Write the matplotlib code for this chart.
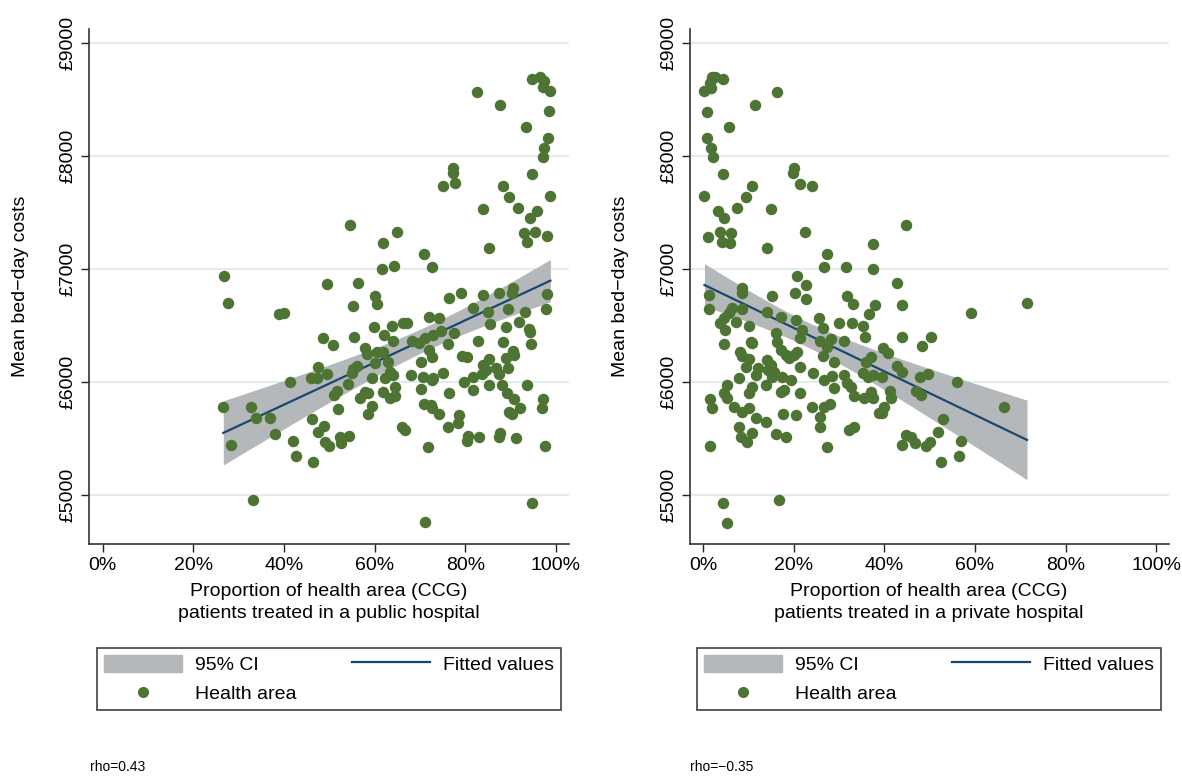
import numpy as np
import matplotlib
matplotlib.use("Agg")
import matplotlib.pyplot as plt
from matplotlib.patches import Patch
from matplotlib.lines import Line2D

plt.rcParams["font.family"] = ["Liberation Sans", "DejaVu Sans"]

# left panel: % of CCG patients treated in a public hospital vs mean bed-day cost
public_pct = [
    82.7, 87.7, 93.4, 94.8, 96.5, 97.5, 97.2, 98.8, 98.4, 98.3, 97.4, 97.1, 94.7, 98.7,
    88.3, 89.7, 91.7, 95.8, 94.3, 93.0, 95.4, 93.6, 98.1, 83.9, 85.2, 77.4, 77.4, 75.2,
    77.8, 64.9, 61.8, 61.6, 64.3, 71.0, 72.6, 79.0, 76.5, 84.0, 87.5, 90.6, 90.3, 98.0,
    54.5, 26.8, 49.4, 56.3, 60.1,
    27.7, 38.8, 40.1, 55.3, 60.5, 59.9, 48.7, 50.8, 55.5, 57.9, 58.4, 60.5, 60.1, 56.1,
    55.3, 54.9, 47.5, 49.4, 45.9, 47.2, 41.3, 54.2, 59.5, 51.6, 51.0, 57.9, 58.6, 56.8,
    59.4, 58.5, 52.0, 26.6, 32.7, 33.8, 36.8, 46.1, 48.8, 47.4, 38.0, 28.3, 41.9, 49.1,
    50.0, 52.4, 54.4, 52.6, 42.7, 46.5, 33.1,
    97.8, 93.1, 89.5, 85.0, 81.7, 85.5, 88.9, 91.9, 94.1, 94.3, 94.5, 88.3, 82.9, 90.6,
    90.8, 89.0, 89.5, 86.9, 87.5, 85.2, 84.0, 84.6, 83.6, 81.7, 85.2, 88.2, 89.2, 90.8,
    92.1, 89.7, 90.4, 93.7, 97.2, 97.0, 97.6, 91.2, 87.7, 87.4, 83.0, 80.7, 80.3, 78.6,
    78.3, 76.1, 81.7, 79.8, 79.2, 80.5, 76.5, 70.3, 70.6, 72.6, 73.0, 75.0, 68.0, 70.3,
    72.7, 71.9, 76.1, 77.5, 74.7, 73.0, 71.1, 69.7, 68.2, 72.1, 74.3, 66.3, 67.1, 63.8,
    62.1, 64.0, 61.9, 63.0, 63.4, 62.3, 64.1, 64.5, 61.9, 63.4, 64.5, 66.0, 66.7, 71.7,
    72.4, 70.8, 72.6, 74.2, 94.7, 71.2,
]
public_cost = [
    8566, 8448, 8254, 8678, 8693, 8663, 8605, 8572, 8392, 8156, 8071, 7986, 7841, 7644,
    7732, 7638, 7540, 7511, 7446, 7319, 7323, 7237, 7290, 7529, 7187, 7889, 7845, 7732,
    7756, 7323, 7226, 6996, 7025, 7134, 7019, 6789, 6745, 6768, 6783, 6828, 6783, 6777,
    7385, 6939, 6863, 6872, 6762,
    6695, 6598, 6606, 6674, 6689, 6488, 6391, 6326, 6394, 6297, 6247, 6267, 6170, 6141,
    6111, 6081, 6129, 6067, 6032, 6037, 5996, 5981, 6032, 5920, 5884, 5913, 5905, 5855,
    5787, 5716, 5758, 5781, 5775, 5678, 5678, 5675, 5610, 5560, 5539, 5442, 5480, 5466,
    5436, 5516, 5524, 5457, 5345, 5295, 4956,
    6645, 6615, 6645, 6621, 6651, 6509, 6488, 6527, 6465, 6444, 6332, 6356, 6362, 6273,
    6238, 6209, 6126, 6126, 6067, 6202, 6149, 6105, 6067, 6046, 5973, 5973, 5899, 5849,
    5772, 5737, 5714, 5973, 5849, 5766, 5436, 5507, 5551, 5516, 5516, 5522, 5477, 5707,
    5639, 5598, 5928, 5996, 6229, 6223, 5905, 5940, 6046, 6017, 6037, 6081, 6061, 6179,
    6217, 6282, 6332, 6429, 6450, 6415, 6386, 6341, 6362, 6571, 6562, 6518, 6524, 6497,
    6415, 6364, 6267, 6179, 6090, 6032, 6061, 5958, 5913, 5855, 5875, 5604, 5575, 5421,
    5796, 5805, 5767, 5714, 4932, 4759,
]

# right panel: % treated in a private hospital
private_pct = [
    2.0, 2.7, 1.6, 4.4, 1.8, 0.3, 16.4, 11.5, 0.8, 5.7, 0.8, 1.8, 2.1, 4.4, 20.0, 19.9,
    21.4, 24.0, 0.3, 10.8, 9.4, 7.4, 3.3, 4.6, 14.9, 1.0, 3.7, 6.2, 4.2, 5.9, 22.6, 14.0,
    27.3, 37.4, 26.7, 31.6, 37.4, 20.8, 22.8, 8.5, 8.6, 1.3, 15.3, 20.2, 31.8,
    1.3, 22.8, 33.2, 37.9, 36.6, 8.5, 6.4, 5.7, 4.6, 3.8, 4.9, 7.3, 10.1, 14.2, 17.1,
    20.4, 25.6, 26.5, 30.0, 32.8, 35.4, 35.7, 21.9, 21.4, 16.2, 16.4, 17.3, 18.4, 4.6,
    10.5, 10.8, 8.2, 8.6, 10.1, 9.4, 12.1, 11.6, 14.0, 14.9, 14.3, 15.6, 15.3, 17.5,
    18.9, 20.0, 20.8, 19.3, 21.5, 24.3, 25.9, 27.3, 28.3, 26.5, 28.9, 31.0, 31.1, 31.8,
    32.7, 28.5, 26.7, 28.9, 36.0, 37.0, 35.2, 36.3, 37.4, 33.3, 35.5, 37.0, 37.6, 38.8,
    7.9, 5.3, 4.6, 5.3, 6.8, 1.6, 2.0, 10.8, 10.1, 13.8, 17.1, 17.8, 21.3, 8.6, 10.1,
    11.6, 13.8, 17.7, 20.4, 24.1, 26.7, 28.1, 25.9, 25.9, 7.9, 10.8, 8.3, 9.7, 16.2,
    18.4, 32.2, 33.3, 1.5, 27.4, 4.4, 16.7, 5.3,
    44.7, 42.9, 43.8, 71.5, 59.1, 43.8, 50.2, 48.4, 39.8, 40.8, 42.7, 44.0, 39.6, 47.9,
    49.6, 56.1, 41.2, 41.4, 39.9, 39.6, 47.1, 48.2, 66.4, 53.0, 51.9, 44.7, 45.8, 46.7,
    44.0, 50.1, 49.1, 57.0, 56.5, 52.6,
]
private_cost = [
    8693, 8699, 8646, 8678, 8596, 8572, 8566, 8448, 8389, 8254, 8157, 8071, 7986, 7841,
    7889, 7850, 7753, 7735, 7644, 7729, 7638, 7540, 7511, 7446, 7526, 7284, 7323, 7319,
    7237, 7231, 7323, 7187, 7134, 7223, 7019, 7019, 6996, 6939, 6857, 6828, 6783, 6768,
    6762, 6789, 6760,
    6645, 6733, 6689, 6680, 6598, 6642, 6651, 6606, 6562, 6518, 6459, 6532, 6494, 6621,
    6577, 6547, 6568, 6479, 6524, 6518, 6497, 6400, 6459, 6386, 6429, 6356, 6282, 6238,
    6335, 6356, 6341, 6267, 6229, 6200, 6129, 6120, 6061, 6194, 6149, 6105, 6090, 6046,
    6046, 6214, 6238, 6267, 6017, 6129, 6081, 6362, 6312, 6377, 6229, 6179, 6364, 6061,
    5988, 5958, 6052, 6017, 5943, 6179, 6217, 6081, 6046, 6061, 5875, 5855, 5913, 5855,
    5722, 6032, 5973, 5899, 5855, 5781, 5849, 5766, 5958, 5899, 5970, 5913, 5928, 5905,
    5737, 5767, 5678, 5648, 5714, 5707, 5781, 5781, 5805, 5693, 5604, 5604, 5546, 5516,
    5471, 5539, 5516, 5575, 5604, 5436, 5421, 4932, 4956, 4755,
    7385, 6872, 6677, 6695, 6612, 6394, 6394, 6320, 6297, 6253, 6141, 6090, 6041, 6041,
    6070, 5996, 5922, 5855, 5781, 5722, 5922, 5884, 5775, 5672, 5560, 5530, 5516, 5462,
    5442, 5466, 5436, 5480, 5345, 5295,
]

rho_text = ["rho=0.43", "rho=\u22120.35"]
xlabels = ["Proportion of health area (CCG)\npatients treated in a public hospital",
           "Proportion of health area (CCG)\npatients treated in a private hospital"]
ytick_vals = [5000, 6000, 7000, 8000, 9000]
xtick_vals = [0, 20, 40, 60, 80, 100]

GREEN = "#4e7434"
NAVY = "#1a476f"
CI_GREY = "#b5b8ba"
GRID = "#e3ecee"


def lfitci(x, y, n_pts=100):
    # OLS fit and 95% CI of the mean prediction, like Stata's lfitci
    x = np.asarray(x, float)
    y = np.asarray(y, float)
    n = len(x)
    b1, b0 = np.polyfit(x, y, 1)
    resid = y - (b0 + b1 * x)
    s = np.sqrt(np.sum(resid ** 2) / (n - 2))
    xbar = x.mean()
    sxx = np.sum((x - xbar) ** 2)
    xs = np.linspace(x.min(), x.max(), n_pts)
    fit = b0 + b1 * xs
    se = s * np.sqrt(1.0 / n + (xs - xbar) ** 2 / sxx)
    return xs, fit, fit - 1.97 * se, fit + 1.97 * se


def draw_panel(ax, x, y, xlabel):
    x = np.asarray(x) / 100.0
    xs, fit, lo, hi = lfitci(x, y)
    ax.fill_between(xs, lo, hi, color=CI_GREY, lw=0, zorder=2)
    ax.plot(xs, fit, color=NAVY, lw=1.6, zorder=3)
    ax.scatter(x, y, s=68, color=GREEN, linewidths=0, zorder=4)

    ax.set_xlim(-0.03, 1.028)
    ax.set_ylim(4567, 9118)
    ax.set_xticks([v / 100 for v in xtick_vals])
    ax.set_xticklabels([f"{v}%" for v in xtick_vals])
    ax.set_yticks(ytick_vals)
    ax.set_yticklabels([f"\u00a3{v}" for v in ytick_vals], rotation=90, va="center")
    ax.tick_params(labelsize=14, length=6, width=1, color="#222222", pad=3)
    ax.grid(axis="y", color=GRID, lw=1.5, zorder=0)
    ax.set_axisbelow(True)
    for side in ["top", "right"]:
        ax.spines[side].set_visible(False)
    for side in ["left", "bottom"]:
        ax.spines[side].set_color("#333333")
        ax.spines[side].set_linewidth(1.2)
    ax.set_xlabel(xlabel, fontsize=14, labelpad=7, linespacing=1.35)
    ax.set_ylabel("Mean bed\u2212day costs", fontsize=14, labelpad=22)


W, H = 1182, 776
fig = plt.figure(figsize=(W / 100, H / 100), dpi=100)

panels = [(89.2, public_pct, public_cost), (689.5, private_pct, private_cost)]
for i, (left_px, xv, yv) in enumerate(panels):
    ax = fig.add_axes([left_px / W, 1 - 544 / H, 479.3 / W, (544 - 29.3) / H])
    draw_panel(ax, xv, yv, xlabels[i])

    handles = [Patch(color=CI_GREY),
               Line2D([], [], marker="o", ls="none", color=GREEN, markersize=8, mec="none"),
               Line2D([], [], color=NAVY, lw=1.6)]
    labels = ["95% CI", "Health area", "Fitted values"]
    off = left_px - 89.2
    leg = fig.legend(handles, labels, loc="lower left", mode="expand", ncol=2,
                     bbox_to_anchor=((97 + off) / W, 1 - 710 / H, 464 / W, 65 / H),
                     fontsize=14, frameon=True, fancybox=False, handlelength=4,
                     handleheight=1.0, borderpad=0.35, labelspacing=0.5,
                     handletextpad=0.7, borderaxespad=0)
    leg.get_frame().set_edgecolor("#111111")
    leg.get_frame().set_linewidth(1.2)

    fig.text((90 + off) / W, 1 - 767 / H, rho_text[i], fontsize=10, va="center")

fig.savefig("out.png", dpi=100)
